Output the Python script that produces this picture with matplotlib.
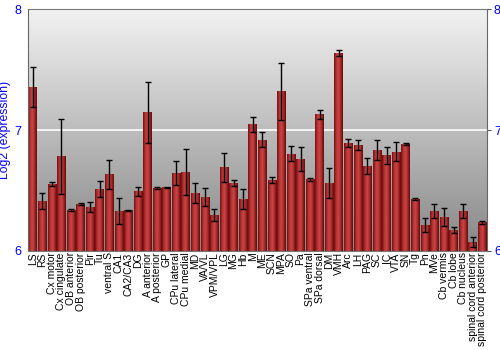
import numpy as np
import matplotlib
matplotlib.use('Agg')
import matplotlib.pyplot as plt
from matplotlib.colors import LinearSegmentedColormap

# region labels
regions = ['LS', 'RS', 'Cx motor', 'Cx cingulate', 'OB anterior', 'OB posterior', 'Pir', 'Tu',
           'ventral S', 'CA1', 'CA2/CA3', 'DG', 'A anterior', 'A posterior', 'GP', 'CPu lateral',
           'CPu medial', 'MD', 'VA/VL', 'VPM/VPL', 'LG', 'MG', 'Hb', 'M', 'ME', 'SCN', 'MPA', 'SO',
           'Pa', 'SPa ventral', 'SPa dorsal', 'DM', 'VMH', 'Arc', 'LH', 'PAG', 'SC', 'IC', 'VTA',
           'SN', 'Tg', 'Pn', 'MVe', 'Cb vermis', 'Cb lobe', 'Cb nucleus', 'spinal cord anterior',
           'spinal cord posterior']

# log2 expression means
values = [7.353, 6.413, 6.554, 6.785, 6.339, 6.388, 6.366, 6.512,
          6.636, 6.328, 6.336, 6.493, 7.146, 6.521, 6.526, 6.642,
          6.656, 6.479, 6.446, 6.298, 6.692, 6.562, 6.427, 7.047,
          6.920, 6.584, 7.322, 6.804, 6.758, 6.593, 7.132, 6.565,
          7.636, 6.893, 6.879, 6.702, 6.832, 6.791, 6.821, 6.887,
          6.430, 6.215, 6.331, 6.281, 6.174, 6.331, 6.074, 6.237]

# error (+/-)
errors = [0.165, 0.07, 0.02, 0.31, 0.005, 0.005, 0.04, 0.067,
          0.12, 0.106, 0.005, 0.035, 0.25, 0.008, 0.006, 0.10,
          0.19, 0.08, 0.077, 0.052, 0.12, 0.023, 0.083, 0.062,
          0.06, 0.026, 0.235, 0.06, 0.1, 0.014, 0.037, 0.124,
          0.025, 0.033, 0.041, 0.063, 0.084, 0.072, 0.08, 0.008,
          0.005, 0.056, 0.056, 0.072, 0.022, 0.058, 0.043, 0.012]

plt.rcParams['font.family'] = ['Liberation Sans', 'DejaVu Sans']

fig = plt.figure(figsize=(5, 3.5), dpi=100)
ax = fig.add_axes([0.056, 0.283, 0.918, 0.691])

x = np.arange(len(regions))
ymin, ymax = 6, 8
ax.set_xlim(-0.5, len(regions) - 0.5)
ax.set_ylim(ymin, ymax)

# grey background gradient
bg = LinearSegmentedColormap.from_list('bg', ['#878787', '#f2f2f2'])
grad = np.linspace(0, 1, 256).reshape(-1, 1)
ax.imshow(grad, cmap=bg, origin='lower', aspect='auto',
          extent=[-0.5, len(regions) - 0.5, ymin, ymax], zorder=0)

ax.axhline(7, color='white', lw=1.2, zorder=1)

# bars with horizontal red shading
red = LinearSegmentedColormap.from_list('red', ['#701010', '#b83232', '#c84646', '#a82828', '#5e0a0a'])
hgrad = np.linspace(0, 1, 64).reshape(1, -1)
bars = ax.bar(x, np.array(values) - ymin, bottom=ymin, width=0.9, color='none',
              edgecolor='none', zorder=2)
for b in bars:
    im = ax.imshow(hgrad, cmap=red, aspect='auto', zorder=2,
                   extent=[b.get_x(), b.get_x() + b.get_width(), ymin, b.get_y() + b.get_height()])
    im.set_clip_path(b)

ax.errorbar(x, values, yerr=errors, fmt='none', ecolor='black', elinewidth=1,
            capsize=2, capthick=1, zorder=3)

ax.set_xticks(x)
ax.set_xticklabels(regions, rotation=90, fontsize=7.5)
ax.tick_params(axis='x', length=0, pad=1)

ax.set_yticks([6, 7, 8])
ax.tick_params(axis='y', left=False, right=True, labelright=True, length=3,
               labelsize=9, pad=2, labelcolor='blue', color='#555555')
ax.set_ylabel('Log2 (expression)', color='blue', fontsize=8.8, labelpad=2)

for s in ['top', 'bottom']:
    ax.spines[s].set_color('#777777')
ax.spines['left'].set_color('#666666')
ax.spines['right'].set_color('#666666')

fig.savefig('out.png', dpi=100)
